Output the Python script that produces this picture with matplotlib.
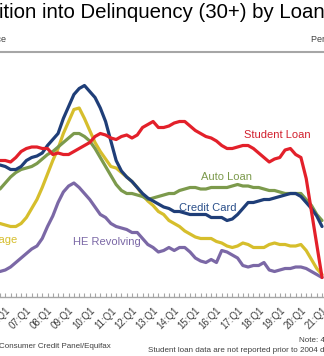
import numpy as np
import pandas as pd
import matplotlib
matplotlib.use("Agg")
import matplotlib.pyplot as plt

plt.rcParams['font.family'] = ['Liberation Sans', 'DejaVu Sans']

# quarterly, 2005Q4 .. 2021Q1 (percent of balance, 4 quarter moving sum)
quarters = pd.period_range('2005Q4', '2021Q1', freq='Q')

credit_card = [8.8, 8.7, 8.5, 8.5, 8.7, 9.1, 9.3, 9.4, 9.6, 10.1,
               10.5, 10.9, 11.9, 12.7, 13.5, 13.9, 14.1, 13.7, 13.3, 12.6,
               11.7, 10.4, 9.1, 8.4, 8.0, 7.7, 7.3, 6.9, 6.6, 6.4,
               6.2, 6.0, 5.9, 5.7, 5.7, 5.6, 5.5, 5.5, 5.5, 5.5,
               5.3, 5.3, 5.3, 5.1, 5.2, 5.5, 5.9, 6.3, 6.3, 6.4,
               6.5, 6.5, 6.6, 6.7, 6.8, 6.9, 6.9, 6.7, 6.3, 5.9,
               5.4, 4.7]
mortgage = [4.9, 4.8, 4.7, 4.7, 4.9, 5.3, 5.9, 6.5, 7.3, 8.2,
            9.1, 9.9, 10.9, 11.7, 12.5, 12.6, 11.9, 11.1, 10.3, 9.7,
            9.2, 8.7, 8.6, 8.3, 8.0, 7.7, 7.3, 6.8, 6.4, 6.1,
            5.7, 5.5, 5.1, 4.9, 4.7, 4.4, 4.2, 4.0, 3.9, 3.9,
            3.9, 3.7, 3.6, 3.4, 3.3, 3.4, 3.6, 3.5, 3.3, 3.3,
            3.3, 3.5, 3.6, 3.5, 3.5, 3.4, 3.4, 3.5, 3.1, 2.5,
            1.9, 1.5]
auto_loan = [7.2, 7.6, 8.0, 8.3, 8.5, 8.6, 8.7, 8.9, 9.2, 9.5,
             9.7, 10.0, 10.3, 10.6, 10.9, 10.9, 10.7, 10.4, 9.9, 9.3,
             8.7, 8.1, 7.5, 7.1, 6.9, 6.9, 6.8, 6.7, 6.5, 6.6,
             6.7, 6.8, 6.9, 6.9, 7.1, 7.2, 7.3, 7.3, 7.2, 7.2,
             7.3, 7.3, 7.3, 7.3, 7.4, 7.5, 7.4, 7.4, 7.3, 7.3,
             7.2, 7.1, 7.1, 7.0, 6.9, 6.9, 6.9, 6.9, 6.5, 6.1,
             5.5, 5.1]
student_loan = [9.1, 9.1, 9.0, 9.3, 9.7, 9.9, 10.0, 10.0, 9.9, 9.9,
                9.5, 9.6, 9.5, 9.5, 9.7, 9.9, 10.1, 10.3, 10.7, 10.9,
                10.8, 10.6, 10.5, 10.7, 10.8, 10.6, 10.8, 11.3, 11.5, 11.7,
                11.3, 11.3, 11.4, 11.6, 11.7, 11.7, 11.4, 11.1, 10.9, 10.7,
                10.6, 10.4, 10.1, 9.9, 9.9, 10.0, 10.1, 10.1, 9.9, 9.6,
                9.3, 9.0, 9.2, 9.3, 9.8, 9.9, 9.5, 9.3, 7.9, 5.7,
                3.5, 1.3]
he_revolving = [1.7, 1.8, 2.0, 2.3, 2.6, 2.9, 3.2, 3.4, 3.9, 4.7,
                5.4, 6.3, 7.0, 7.4, 7.6, 7.3, 6.9, 6.5, 6.0, 5.5,
                5.3, 4.9, 4.7, 4.6, 4.5, 4.3, 4.3, 3.9, 3.5, 3.3,
                3.0, 3.1, 3.3, 3.1, 3.3, 3.3, 3.0, 2.6, 2.4, 2.3,
                2.5, 2.3, 3.1, 3.0, 2.8, 2.6, 2.1, 2.0, 2.1, 2.1,
                2.3, 1.8, 1.7, 1.8, 1.9, 1.9, 2.0, 2.0, 1.9, 1.7,
                1.5, 1.3]

tick_years = list(range(2006, 2022))
tick_labels = ["%02d:Q1" % (y % 100) for y in tick_years]

x = np.array([q.year + (q.quarter - 1) / 4 for q in quarters])

fig = plt.figure(figsize=(3.24, 3.56), dpi=100)
ax = fig.add_axes([0, 59 / 356, 1, 240 / 356])

lw = 2.3
ax.plot(x, he_revolving, color='#7B68A6', lw=lw, solid_capstyle='round')
ax.plot(x, mortgage, color='#D6BE2C', lw=lw, solid_capstyle='round')
ax.plot(x, auto_loan, color='#7C9A4C', lw=lw, solid_capstyle='round')
ax.plot(x, credit_card, color='#1F3E78', lw=lw, solid_capstyle='round')
ax.plot(x, student_loan, color='#E3202A', lw=lw, solid_capstyle='round')

ax.set_xlim(2005.923, 2021.093)
ax.set_ylim(0, 16)

for s in ['top', 'left', 'right']:
    ax.spines[s].set_visible(False)
ax.spines['bottom'].set_color('#A6A6A6')
ax.spines['bottom'].set_linewidth(1)
ax.set_yticks([])

ax.set_xticks(tick_years)
ax.set_xticklabels(tick_labels, rotation=45, ha='right', rotation_mode='anchor',
                   fontsize=7, color='#404040')
ax.set_xticks(x, minor=True)
ax.tick_params(axis='x', which='both', direction='in', length=3, width=0.8,
               color='#A6A6A6', pad=6)

# series labels
ax.text(2018.87, 10.8, 'Student Loan', color='#D2202E', fontsize=8, ha='center', va='center')
ax.text(2016.46, 8.0, 'Auto Loan', color='#7C9A4C', fontsize=8, ha='center', va='center')
ax.text(2015.57, 5.93, 'Credit Card', color='#2A4F8A', fontsize=8, ha='center', va='center')
ax.text(2010.82, 3.67, 'HE Revolving', color='#7B68A6', fontsize=8, ha='center', va='center')
ax.text(2006.55, 3.8, 'Mortgage', color='#D6BE2C', fontsize=8, ha='right', va='center')

# title and header
fig.text(-1 / 324, 1 - 12 / 356, 'ition into Delinquency (30+) by Loan Type',
         fontsize=14.7, ha='left', va='center', color='#000000')
fig.text(6 / 324, 1 - 40 / 356, 'Percent of Balance', fontsize=6.5, ha='right',
         va='center', color='#404040')
fig.text(311 / 324, 1 - 40 / 356, 'Percent of Balance', fontsize=6.5, ha='left',
         va='center', color='#404040')
fig.add_artist(plt.Line2D([0, 1], [1 - 52 / 356, 1 - 52 / 356], color='#A6A6A6', lw=1.5))

# footer
fig.text(111 / 324, 1 - 347 / 356, 'Source: New York Fed Consumer Credit Panel/Equifax',
         fontsize=5.8, ha='right', va='center', color='#404040')
fig.text(299 / 324, 1 - 340 / 356, 'Note: 4 Quarter Moving Sum',
         fontsize=5.8, ha='left', va='center', color='#404040')
fig.text(148 / 324, 1 - 350 / 356,
         'Student loan data are not reported prior to 2004 due to uneven reporting',
         fontsize=5.8, ha='left', va='center', color='#404040')

fig.savefig('out.png', dpi=100)
